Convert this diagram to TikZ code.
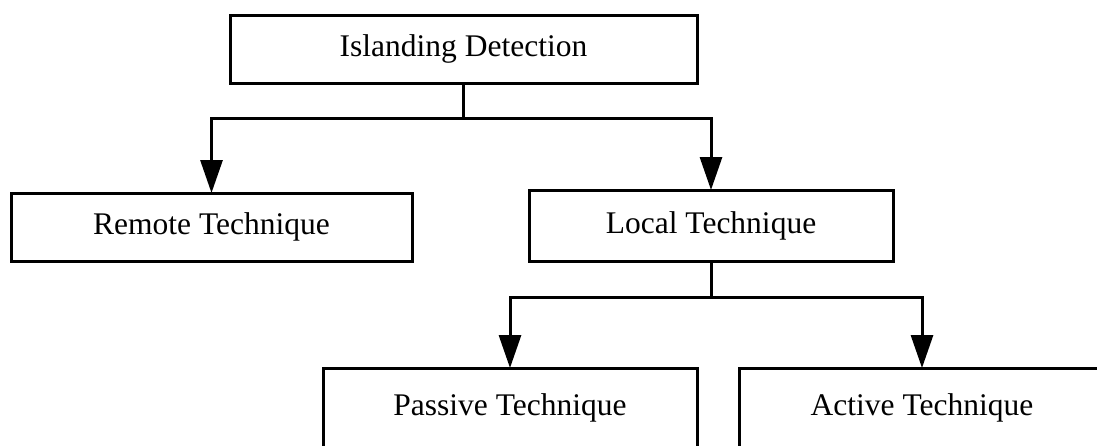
\documentclass[tikz,border=0pt]{standalone}
\usepackage{fontspec}
\setmainfont{Liberation Serif}
\usetikzlibrary{arrows.meta}
\begin{document}
\begin{tikzpicture}[x=1pt,y=-1pt,
  box/.style={draw=black,line width=3pt,rectangle,inner sep=0pt,outer sep=0pt,
    font=\fontsize{31.5}{38}\selectfont,text=black},
  conn/.style={draw=black,line width=3pt},
  arr/.style={conn,-{Triangle[length=33pt,width=22pt]}}]
\clip (0,0) rectangle (1097,445);
\useasboundingbox (0,0) rectangle (1097,445);
\fill[white] (0,0) rectangle (1097,445);
\node[box,minimum width=467pt,minimum height=68pt] (isl) at (463.5,49) {Islanding Detection};
\node[box,minimum width=401pt,minimum height=68pt] (rem) at (211.5,227) {Remote Technique};
\node[box,minimum width=364pt,minimum height=71pt] (loc) at (711,225.5) {Local Technique};
\node[box,minimum width=374pt,minimum height=80pt] (pas) at (510,408) {Passive Technique};
\node[box,minimum width=366pt,minimum height=80pt] (act) at (922,408) {Active Technique};
\coordinate (j1) at (463.5,118);
\coordinate (j2) at (711,297);
\draw[conn] (isl.south) -- (j1);
\draw[arr] (j1) -| (rem.north);
\draw[arr] (j1) -| (loc.north);
\draw[conn] (loc.south) -- (j2);
\draw[arr] (j2) -| (pas.north);
\draw[arr] (j2) -| (act.north);
\end{tikzpicture}
\end{document}
